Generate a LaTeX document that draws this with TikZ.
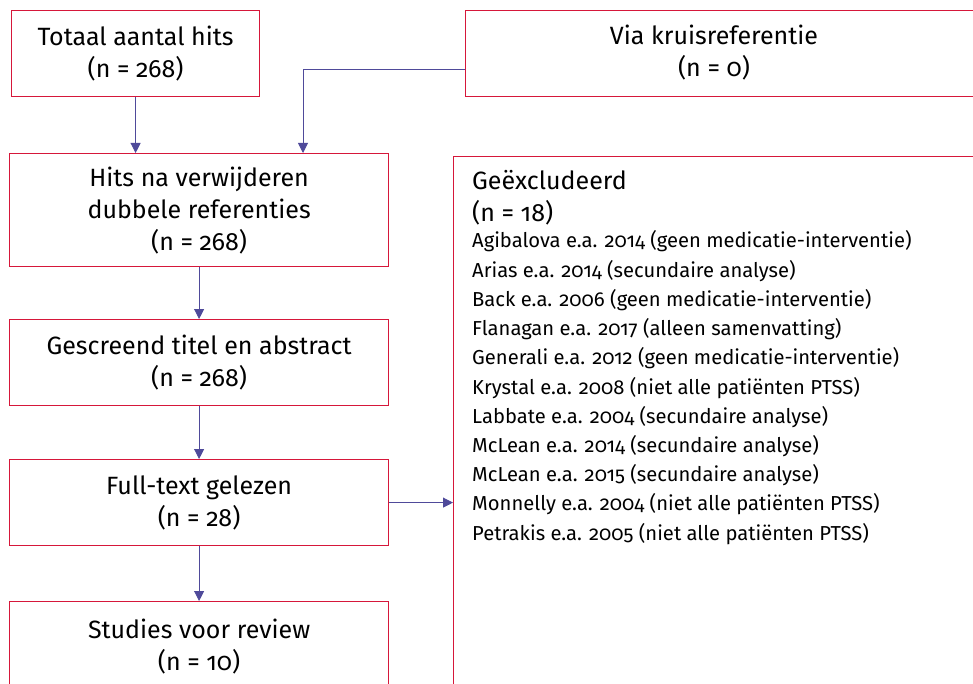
\documentclass[tikz,border=0pt]{standalone}
\usepackage{fontspec}
\setmainfont{Fira Sans}[Numbers=OldStyle]
\usetikzlibrary{arrows.meta}
\definecolor{boxred}{HTML}{D6173A}
\definecolor{arrowblue}{HTML}{4F4A9A}
\begin{document}
\begin{tikzpicture}[x=1pt,y=-1pt,
  box/.style={draw=boxred, line width=1.2pt, inner sep=0pt, anchor=north west,
    font=\fontsize{25}{32}\selectfont, align=center},
  plain/.style={inner sep=0pt, font=\fontsize{25}{32}\selectfont, align=center},
  item/.style={inner sep=0pt, anchor=base west, font=\fontsize{20.2}{24}\selectfont},
  conn/.style={draw=arrowblue, line width=0.9pt},
  arr/.style={conn, -{Triangle[width=10pt,length=10pt]}}]
\useasboundingbox (0,0) rectangle (973,684);
\clip (0,0) rectangle (973,684);
% boxes
\node[box, minimum width=248pt, minimum height=86pt] (b1) at (11,10) {Totaal aantal hits\\(n = 268)};
\node[box, minimum width=600pt, minimum height=86pt] (via) at (465,10) {};
\node[plain] (viat) at (714,53) {Via kruisreferentie\\(n = 0)};
\node[box, minimum width=379pt, minimum height=113pt] (b2) at (9,153) {Hits na verwijderen\\dubbele referenties\\(n = 268)};
\node[box, minimum width=379pt, minimum height=86pt] (b3) at (9,319) {Gescreend titel en abstract\\(n = 268)};
\node[box, minimum width=379pt, minimum height=86pt] (b4) at (9,459) {Full-text gelezen\\(n = 28)};
\node[box, minimum width=379pt, minimum height=90pt] (b5) at (9,601) {Studies voor review\\(n = 10)};
\node[box, minimum width=600pt, minimum height=600pt] (ex) at (453,156) {};
% excluded text
\node[inner sep=0pt, anchor=base west, font=\fontsize{25}{32}\selectfont] (exh1) at (472,190) {Geëxcludeerd};
\node[inner sep=0pt, anchor=base west, font=\fontsize{25}{32}\selectfont] (exh2) at (472,222) {(n = 18)};
\foreach \t [count=\i from 0] in {
  Agibalova e.a. 2014 (geen medicatie-interventie),
  Arias e.a. 2014 (secundaire analyse),
  Back e.a. 2006 (geen medicatie-interventie),
  Flanagan e.a. 2017 (alleen samenvatting),
  Generali e.a. 2012 (geen medicatie-interventie),
  Krystal e.a. 2008 (niet alle patiënten PTSS),
  Labbate e.a. 2004 (secundaire analyse),
  McLean e.a. 2014 (secundaire analyse),
  McLean e.a. 2015 (secundaire analyse),
  Monnelly e.a. 2004 (niet alle patiënten PTSS),
  Petrakis e.a. 2005 (niet alle patiënten PTSS)}
  \node[item] (it\i) at (472,{248+29.2*\i}) {\t};
% connectors
\coordinate (vj) at (303,69);
\draw[arr] (b1.south) -- (b1.south |- b2.north);
\draw[arr] (via.west |- vj) -- (vj) -- (vj |- b2.north);
\draw[arr] (b2.south) -- (b3.north);
\draw[arr] (b3.south) -- (b4.north);
\draw[arr] (b4.south) -- (b5.north);
\draw[arr] (b4.east) -- (b4.east -| ex.west);
\end{tikzpicture}
\end{document}
